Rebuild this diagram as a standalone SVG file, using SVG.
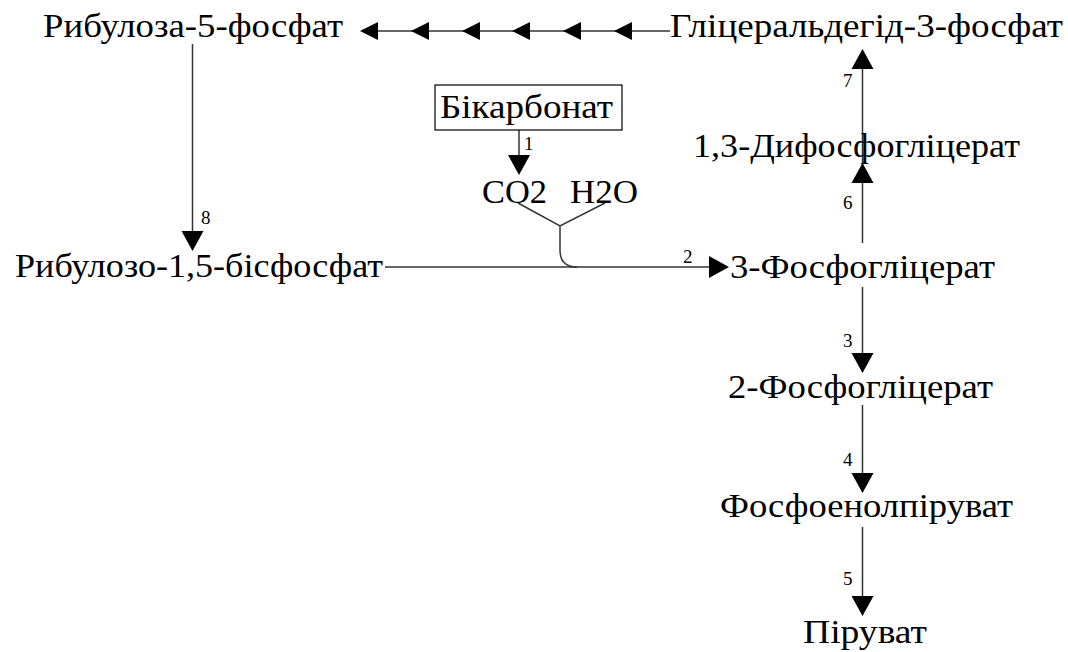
<svg xmlns="http://www.w3.org/2000/svg" width="1068" height="652" viewBox="0 0 1068 652">
<style>
.t{font-family:"Liberation Serif","Times New Roman",serif;font-size:33px;fill:#000}
.n{font-family:"Liberation Serif","Times New Roman",serif;font-size:19px;fill:#000}
.c{stroke:#333;stroke-width:1.5;fill:none}
.h{fill:#000;stroke:none}
</style>
<rect width="1068" height="652" fill="#fff"/>
<g id="connectors">
  <path class="c" d="M670,31 H362"/>
  <polygon class="h" points="360,31 378,22 378,40"/>
  <polygon class="h" points="411,31 429,22 429,40"/>
  <polygon class="h" points="462,31 480,22 480,40"/>
  <polygon class="h" points="512,31 530,22 530,40"/>
  <polygon class="h" points="563,31 581,22 581,40"/>
  <polygon class="h" points="614,31 632,22 632,40"/>
  <path class="c" d="M192.5,44 V240"/>
  <polygon class="h" points="192.5,251 181.5,231 203.5,231"/>
  <text class="n" x="201" y="224">8</text>
  <path class="c" d="M385,267 H712"/>
  <polygon class="h" points="729,267 709,256 709,278"/>
  <text class="n" x="683" y="263">2</text>
  <path class="c" d="M519,130 V160"/>
  <polygon class="h" points="519,175 508,155 530,155"/>
  <text class="n" x="524" y="150">1</text>
  <path class="c" d="M518,203 L560,226 L605,203 M560,226 V250 Q560,267 577,267"/>
  <path class="c" d="M862.5,243 V65"/>
  <polygon class="h" points="862.5,163 851.5,183 873.5,183"/>
  <polygon class="h" points="862.5,49 851.5,69 873.5,69"/>
  <text class="n" x="843" y="209">6</text>
  <text class="n" x="843" y="87">7</text>
  <path class="c" d="M862.5,287 V360"/>
  <polygon class="h" points="862.5,373 851.5,353 873.5,353"/>
  <text class="n" x="843" y="347">3</text>
  <path class="c" d="M862.5,405 V480"/>
  <polygon class="h" points="862.5,493 851.5,473 873.5,473"/>
  <text class="n" x="843" y="466">4</text>
  <path class="c" d="M862.5,527 V600"/>
  <polygon class="h" points="862.5,616 851.5,596 873.5,596"/>
  <text class="n" x="843" y="585">5</text>
</g>
<g id="ribulose5p"><text class="t" x="43" y="37" textLength="300" lengthAdjust="spacingAndGlyphs">Рибулоза-5-фосфат</text></g>
<g id="g3p"><text class="t" x="670" y="37" textLength="393" lengthAdjust="spacingAndGlyphs">Гліцеральдегід-3-фосфат</text></g>
<g id="bicarbonate"><rect x="435" y="85" width="187" height="45" fill="#fff" stroke="#000" stroke-width="1.2"/><text class="t" x="440" y="118" textLength="173" lengthAdjust="spacingAndGlyphs">Бікарбонат</text></g>
<g id="co2h2o"><text class="t" x="482" y="203" textLength="65" lengthAdjust="spacingAndGlyphs">CO2</text><text class="t" x="570" y="203" textLength="68" lengthAdjust="spacingAndGlyphs">H2O</text></g>
<g id="rubp"><text class="t" x="15" y="277" textLength="368" lengthAdjust="spacingAndGlyphs">Рибулозо-1,5-бісфосфат</text></g>
<g id="pg3"><text class="t" x="730" y="278" textLength="265" lengthAdjust="spacingAndGlyphs">3-Фосфогліцерат</text></g>
<g id="bpg13"><text class="t" x="693" y="157" textLength="327" lengthAdjust="spacingAndGlyphs">1,3-Дифосфогліцерат</text></g>
<g id="pg2"><text class="t" x="728" y="398" textLength="265" lengthAdjust="spacingAndGlyphs">2-Фосфогліцерат</text></g>
<g id="pep"><text class="t" x="720" y="517" textLength="293" lengthAdjust="spacingAndGlyphs">Фосфоенолпіруват</text></g>
<g id="pyruvate"><text class="t" x="803" y="643" textLength="124" lengthAdjust="spacingAndGlyphs">Піруват</text></g>
</svg>
